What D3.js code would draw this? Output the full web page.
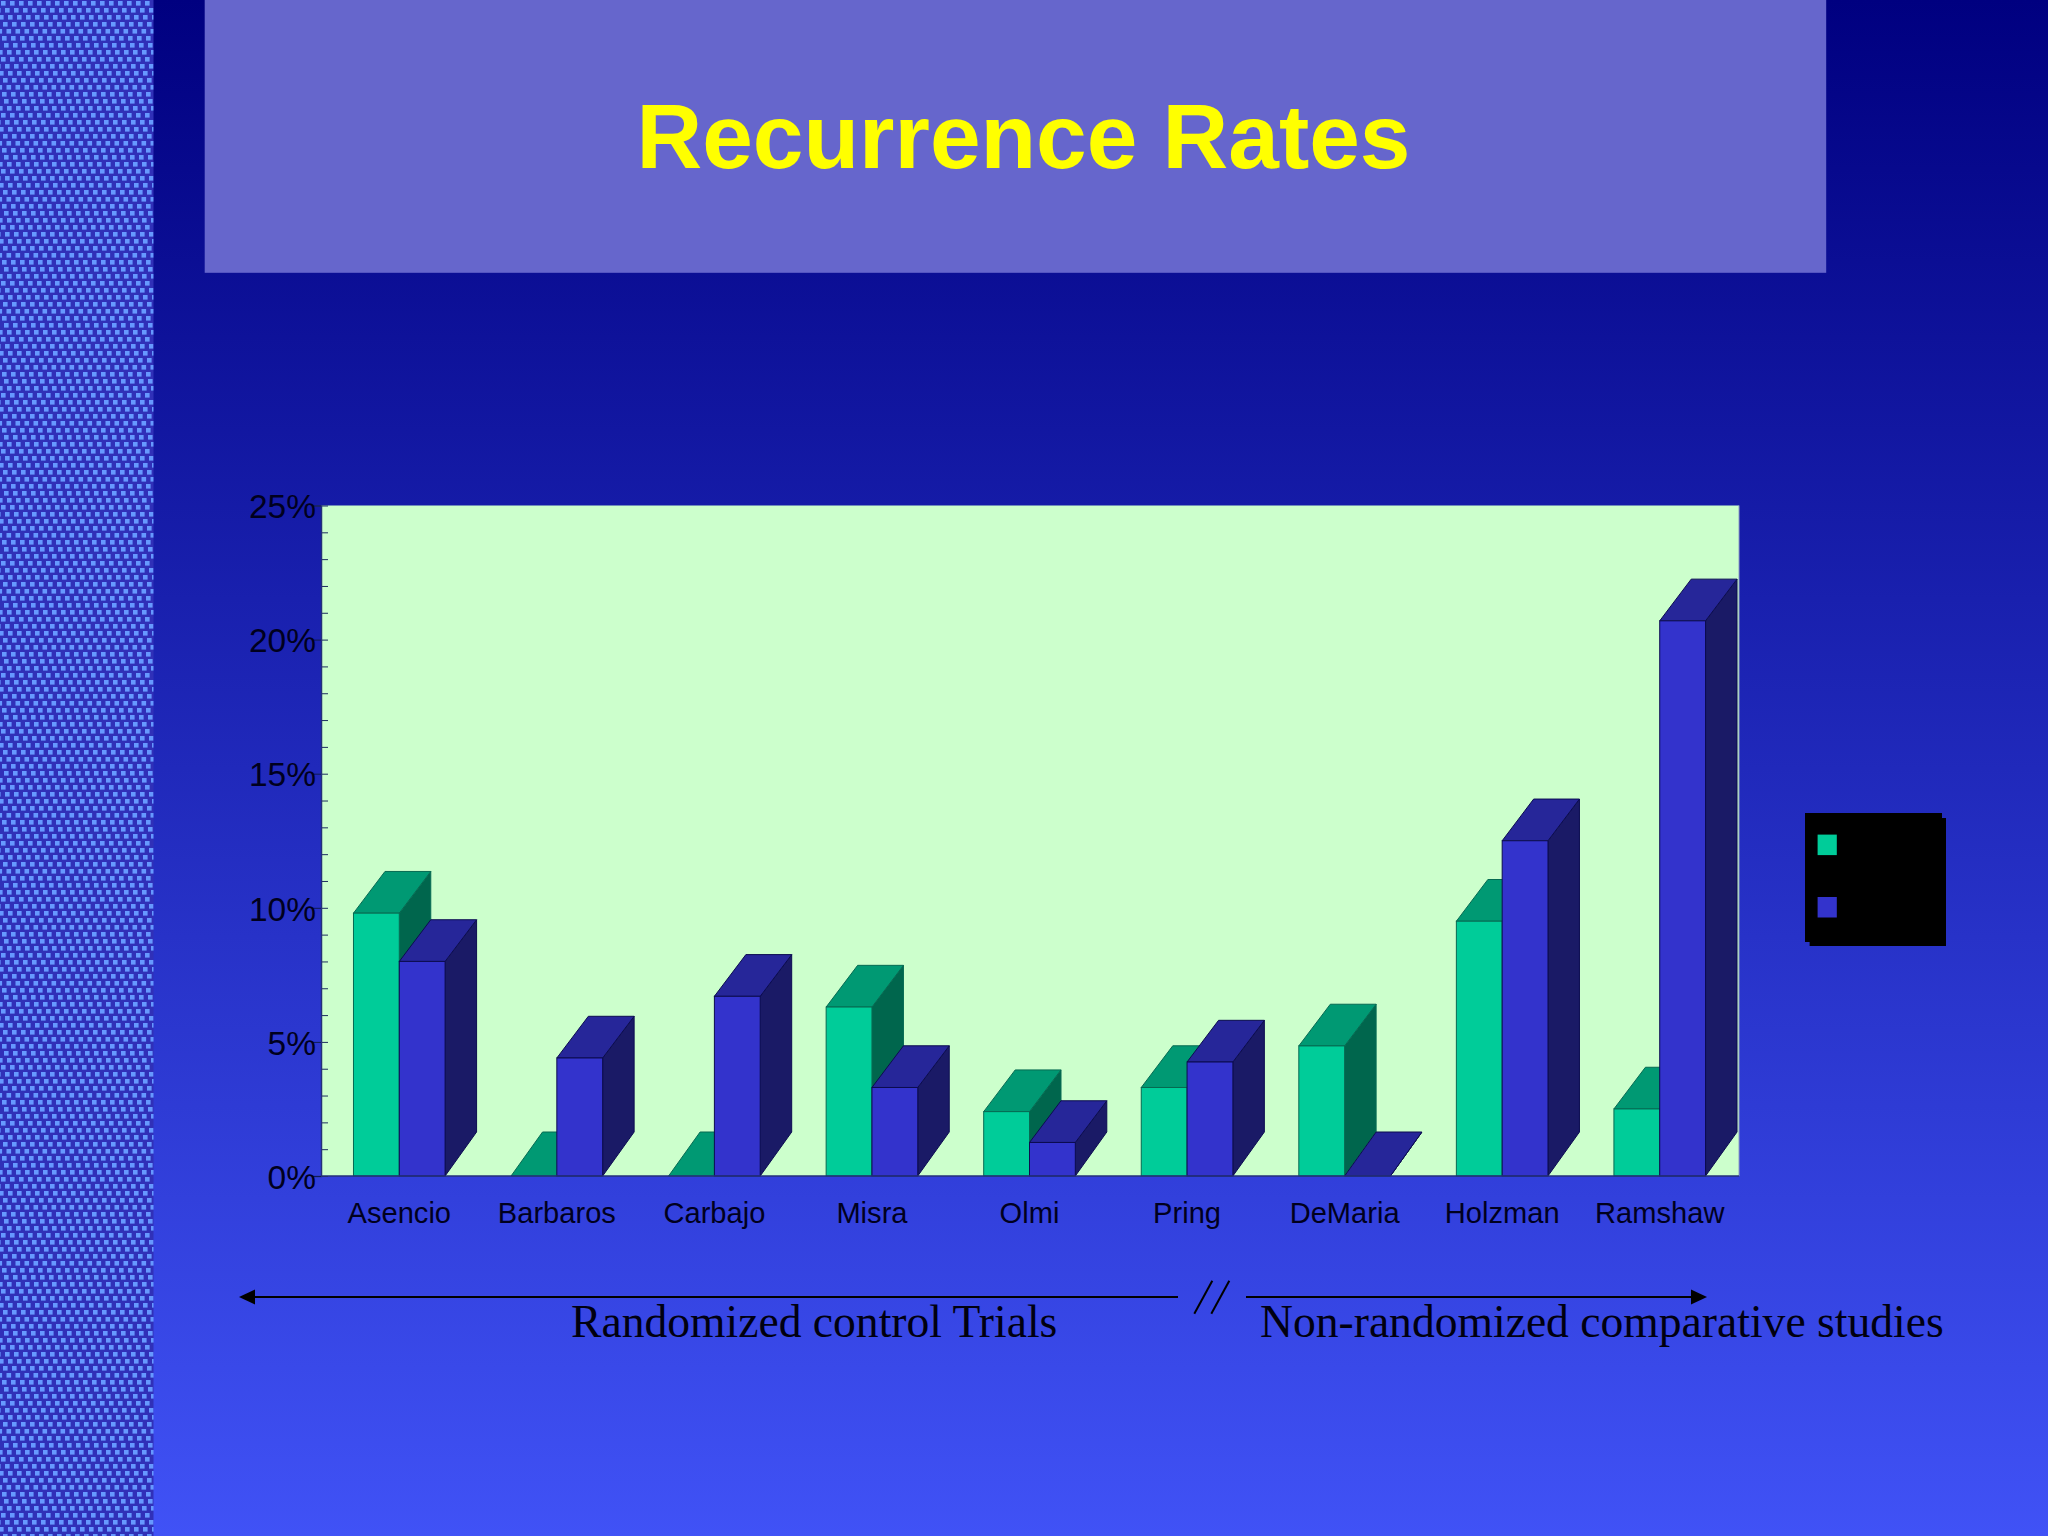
<!DOCTYPE html>
<html>
<head>
<meta charset="utf-8">
<title>Recurrence Rates</title>
<script src="https://cdn.jsdelivr.net/npm/d3@7"></script>
<style>
  html, body { margin: 0; padding: 0; background: #000080; }
  svg { display: block; }
</style>
</head>
<body>
<svg width="2048" height="1536"></svg>
<script>
// values, in percent
var studies = ["Asencio", "Barbaros", "Carbajo", "Misra", "Olmi", "Pring", "DeMaria", "Holzman", "Ramshaw"];
var seriesNames = ["green", "blue"];
var greenValues = [9.8, 0, 0, 6.3, 2.4, 3.3, 4.85, 9.5, 2.5];
var blueValues = [8.0, 4.4, 6.7, 3.3, 1.25, 4.25, 0, 12.5, 20.7];
var majorTicks = [0, 5, 10, 15, 20, 25];
var minorTicks = d3.range(0, 26);

var colors = {
  green: { front: "#00cc99", top: "#009973", side: "#00664d", line: "#066a52" },
  blue: { front: "#3333cc", top: "#262699", side: "#1a1a66", line: "#0c0c50" }
};
var textColor = "#00001e";

var plot = { left: 321, right: 1739, top: 505.5, bottom: 1176 },
  depth = { dx: 31.5, dy: 41.7, floorDy: 44 };

var svg = d3.select("svg");
var defs = svg.append("defs");

var bgGrad = defs.append("linearGradient")
  .attr("id", "bg")
  .attr("x1", 0).attr("y1", 0).attr("x2", 0).attr("y2", 1);
bgGrad.append("stop").attr("offset", 0).attr("stop-color", "#000080");
bgGrad.append("stop").attr("offset", 1).attr("stop-color", "#4052f6");

// sidebar texture, staggered little squares
var rowOffsets = [1, 5, 8, 3, 6.5, 2, 4, 7];
var tile = defs.append("pattern")
  .attr("id", "weave")
  .attr("patternUnits", "userSpaceOnUse")
  .attr("width", 27)
  .attr("height", 56);
tile.append("rect").attr("width", 27).attr("height", 56).attr("fill", "#3030b8");
rowOffsets.forEach(function (off, row) {
  d3.range(-1, 3).forEach(function (col) {
    tile.append("rect")
      .attr("x", off + col * 9).attr("y", 1 + row * 7)
      .attr("width", 4.6).attr("height", 4.6)
      .attr("fill", "#6699ff");
  });
});

svg.append("rect").attr("width", 2048).attr("height", 1536).attr("fill", "url(#bg)");
svg.append("rect").attr("width", 153.5).attr("height", 1536).attr("fill", "url(#weave)");

// title panel
svg.append("rect")
  .attr("x", 204.7).attr("y", 0)
  .attr("width", 1621.5).attr("height", 272.8)
  .attr("fill", "#6666cc");
svg.append("text")
  .attr("x", 1023.5).attr("y", 168)
  .attr("text-anchor", "middle")
  .attr("font-family", "Liberation Sans")
  .attr("font-weight", "bold")
  .attr("font-size", 91)
  .attr("fill", "#ffff00")
  .text("Recurrence Rates");

var x = d3.scaleBand().domain(studies).range([320.5, 1738.5]);
var inner = d3.scaleBand().domain(seriesNames).range([0, x.bandwidth()]).paddingOuter(0.72);
var y = d3.scaleLinear().domain([0, 25]).range([plot.bottom, plot.top]);

// plot area
svg.append("rect")
  .attr("x", plot.left).attr("y", plot.top)
  .attr("width", plot.right - plot.left).attr("height", plot.bottom - plot.top)
  .attr("fill", "#ccffcc");
svg.append("line")
  .attr("x1", plot.right).attr("x2", plot.right)
  .attr("y1", plot.top).attr("y2", plot.bottom)
  .attr("stroke", "#8f9fc0");

// axes
var axisMinor = d3.axisRight(y).tickValues(minorTicks).tickSize(7).tickFormat("");
svg.append("g")
  .attr("id", "axis_minor")
  .attr("transform", "translate(" + plot.left + ",0)")
  .call(axisMinor)
  .call(function (g) { g.select(".domain").remove(); })
  .call(function (g) { g.selectAll("line").attr("stroke", "#1d2f5e").attr("stroke-width", 1); });

var axisY = d3.axisLeft(y).tickValues(majorTicks).tickSize(8).tickPadding(-3).tickFormat(function (d) { return d + "%"; });
svg.append("g")
  .attr("id", "axis_y")
  .attr("transform", "translate(" + plot.left + ",0)")
  .call(axisY)
  .call(function (g) { g.select(".domain").attr("stroke", "#24307a").attr("stroke-width", 1.5); })
  .call(function (g) { g.selectAll("line").attr("stroke", "#0e1a55"); })
  .call(function (g) {
    g.selectAll("text")
      .attr("y", 1.5)
      .attr("font-family", "Liberation Sans")
      .attr("font-size", 33.5)
      .attr("fill", textColor);
  });

// one 3d column: side and top first, front face last
function drawColumn(g, name, study, value) {
  var c = colors[name],
    x0 = x(study) + inner(name),
    x1 = x0 + inner.bandwidth(),
    y0 = y(0),
    y1 = y(value),
    topDy = value === 0 ? depth.floorDy : depth.dy;

  g.append("polygon")
    .attr("points", [[x1, y0], [x1 + depth.dx, y0 - depth.floorDy], [x1 + depth.dx, y1 - topDy], [x1, y1]].join(" "))
    .attr("fill", c.side)
    .attr("stroke", c.line);
  g.append("polygon")
    .attr("points", [[x0, y1], [x0 + depth.dx, y1 - topDy], [x1 + depth.dx, y1 - topDy], [x1, y1]].join(" "))
    .attr("fill", c.top)
    .attr("stroke", c.line);
  g.append("rect")
    .attr("x", x0).attr("y", y1)
    .attr("width", x1 - x0).attr("height", y0 - y1)
    .attr("fill", c.front)
    .attr("stroke", c.line);
}

var columns = svg.append("g").attr("id", "columns");
studies.forEach(function (study, i) {
  drawColumn(columns, "green", study, greenValues[i]);
  drawColumn(columns, "blue", study, blueValues[i]);
});

// baseline sits over the column feet
svg.append("line")
  .attr("x1", plot.left).attr("x2", plot.right)
  .attr("y1", plot.bottom).attr("y2", plot.bottom)
  .attr("stroke", "#24307a")
  .attr("stroke-width", 1.5);

var axisX = d3.axisBottom(x).tickSize(0).tickPadding(26);
svg.append("g")
  .attr("id", "axis_x")
  .attr("transform", "translate(0," + plot.bottom + ")")
  .call(axisX)
  .call(function (g) { g.select(".domain").remove(); })
  .call(function (g) {
    g.selectAll("text")
      .attr("font-family", "Liberation Sans")
      .attr("font-size", 30)
      .attr("transform", "scale(0.97,1)")
      .attr("fill", textColor);
  });

// legend, its labels are black on black in the source
var legend = svg.append("g").attr("id", "legend");
legend.append("rect").attr("x", 1809.6).attr("y", 818).attr("width", 136.4).attr("height", 128).attr("fill", "#000");
legend.append("rect").attr("x", 1805).attr("y", 813).attr("width", 137).attr("height", 129).attr("fill", "#000");
var legendY = d3.scalePoint().domain(seriesNames).range([834.6, 897]);
legend.selectAll("rect.swatch")
  .data(seriesNames)
  .enter()
  .append("rect")
  .attr("class", "swatch")
  .attr("x", 1817.6)
  .attr("y", function (d) { return legendY(d); })
  .attr("width", 19.2)
  .attr("height", 20.5)
  .attr("fill", function (d) { return colors[d].front; });

// arrows under the chart
var notes = svg.append("g").attr("id", "notes");
notes.append("line").attr("x1", 250).attr("x2", 1178).attr("y1", 1297).attr("y2", 1297).attr("stroke", "#000").attr("stroke-width", 2.2);
notes.append("line").attr("x1", 1246).attr("x2", 1695).attr("y1", 1297).attr("y2", 1297).attr("stroke", "#000").attr("stroke-width", 2.2);
notes.append("polygon").attr("points", "239,1297 255,1289.5 255,1304.5").attr("fill", "#000");
notes.append("polygon").attr("points", "1707,1297 1691,1289.5 1691,1304.5").attr("fill", "#000");
notes.append("line").attr("x1", 1194.3).attr("y1", 1313.7).attr("x2", 1212.3).attr("y2", 1280.7).attr("stroke", "#000").attr("stroke-width", 2);
notes.append("line").attr("x1", 1211.3).attr("y1", 1313.7).attr("x2", 1229.3).attr("y2", 1280.7).attr("stroke", "#000").attr("stroke-width", 2);

notes.append("text")
  .attr("x", 571).attr("y", 1336.5)
  .attr("font-family", "Liberation Serif")
  .attr("font-size", 45.6)
  .attr("fill", "#000010")
  .text("Randomized control Trials");
notes.append("text")
  .attr("x", 1260).attr("y", 1336.5)
  .attr("font-family", "Liberation Serif")
  .attr("font-size", 45.6)
  .attr("fill", "#000010")
  .text("Non-randomized comparative studies");
</script>
</body>
</html>
